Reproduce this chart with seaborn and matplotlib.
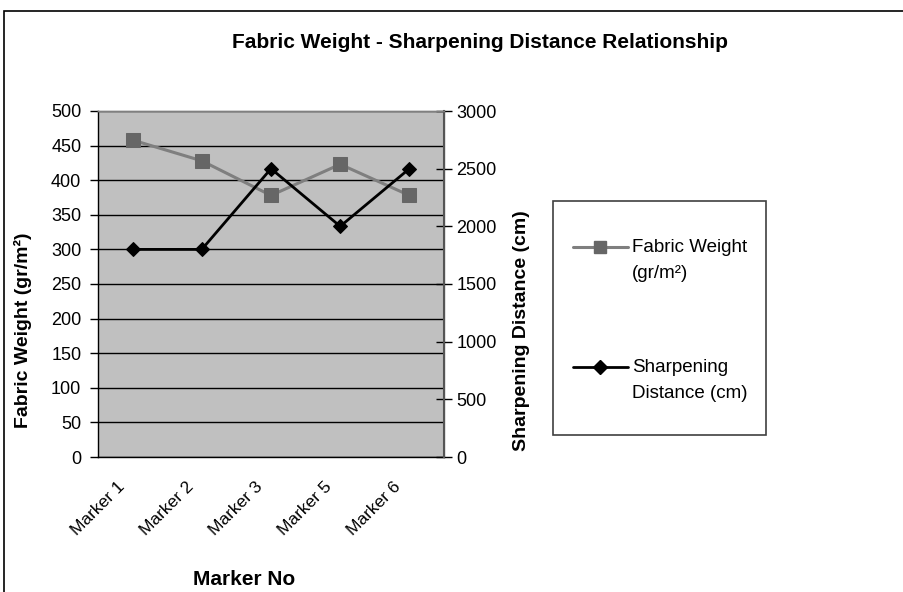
import matplotlib
matplotlib.use("Agg")
import matplotlib.pyplot as plt
import matplotlib.transforms as mtransforms
import seaborn as sns
import pandas as pd
from matplotlib.patches import Rectangle
from matplotlib.lines import Line2D

markers = ["Marker 1", "Marker 2", "Marker 3", "Marker 5", "Marker 6"]
fabric_weight = [458, 428, 378, 423, 378]
sharpening_distance = [1800, 1800, 2500, 2000, 2500]

df = pd.DataFrame({"Marker": markers, "FW": fabric_weight, "SD": sharpening_distance})
df["x"] = range(len(markers))

sns.set_theme(style="white")
plt.rcParams["font.family"] = ["Liberation Sans", "DejaVu Sans"]
plt.rcParams.update({"text.color": "black", "axes.labelcolor": "black",
                     "xtick.color": "black", "ytick.color": "black"})

W, H = 904, 592
fig = plt.figure(figsize=(W / 100, H / 100), dpi=100)


def fx(px):
    return px / W


def fy(py):
    return 1 - py / H


# chart-area border
fig.patches.append(Rectangle((fx(4), -0.01), 1.0, fy(11) + 0.01, transform=fig.transFigure,
                             fill=False, edgecolor="black", linewidth=1.2))

L, R, T, B = 98, 444, 111, 457
ax = fig.add_axes([fx(L), fy(B), (R - L) / W, (B - T) / H])
ax.set_facecolor("#C0C0C0")

sns.lineplot(data=df, x="x", y="FW", ax=ax, color="#7F7F7F", linewidth=2.2,
             marker="s", markersize=9.5, markerfacecolor="#666666", markeredgecolor="#666666",
             zorder=3)
ax.set_ylim(0, 500)
ax.set_xlim(-0.5, 4.5)
ax.set_yticks(range(0, 501, 50))
ax.yaxis.grid(True, color="black", linewidth=1)
ax.set_axisbelow(True)

ax2 = ax.twinx()
sns.lineplot(data=df, x="x", y="SD", ax=ax2, color="black", linewidth=2,
             marker="D", markersize=7.5, markerfacecolor="black", markeredgecolor="black")
ax2.set_ylim(0, 3000)
ax2.set_yticks(range(0, 3001, 500))
ax2.set_xlim(-0.5, 4.5)

for a in (ax, ax2):
    for s in a.spines.values():
        s.set_linewidth(1)
        s.set_color("#808080")
ax.spines["left"].set_color("black")
ax.spines["bottom"].set_color("black")
ax2.spines["left"].set_visible(False)
ax2.spines["bottom"].set_visible(False)
ax2.spines["right"].set_color("#555555")
ax2.spines["right"].set_linewidth(1.5)

ax.set_xticks([i - 0.5 for i in range(6)])
ax.set_xticklabels([])
ax.set_xticks(range(5), minor=True)
ax.set_xticklabels(markers, minor=True, rotation=45, ha="right", rotation_mode="anchor", fontsize=12.5)
ax.tick_params(axis="x", which="major", direction="inout", length=11, width=1, color="black")
ax.tick_params(axis="x", which="minor", length=0, pad=16)
shift = mtransforms.ScaledTranslation(-16 / 100, 0, fig.dpi_scale_trans)
for lab in ax.get_xticklabels(minor=True):
    lab.set_transform(lab.get_transform() + shift)
ax.tick_params(axis="y", direction="out", length=6, width=1, color="black", labelsize=13, pad=6)
ax2.tick_params(axis="y", direction="inout", length=12, width=1, color="black", labelsize=13, pad=3)

ax.set_xlabel("Marker No", fontsize=15, fontweight="bold")
ax.xaxis.set_label_coords((244 - L) / (R - L), -(570 - B) / (B - T))
ax.set_ylabel("Fabric Weight (gr/m²)", fontsize=14, fontweight="bold")
ax.yaxis.set_label_coords(-(L - 32) / (R - L), (B - 330) / (B - T))
ax2.set_ylabel("Sharpening Distance (cm)", fontsize=14, fontweight="bold")
ax2.yaxis.set_label_coords(1 + (513 - R) / (R - L), (B - 331) / (B - T))

fig.text(fx(480), fy(42), "Fabric Weight - Sharpening Distance Relationship",
         ha="center", va="center", fontsize=15, fontweight="bold")

# legend (drawn as a framed box with sample lines and labels)
fig.patches.append(Rectangle((fx(553), fy(435)), (766 - 553) / W, (435 - 201) / H,
                             transform=fig.transFigure, facecolor="white",
                             edgecolor="#404040", linewidth=1.2))
leg_items = [
    (247, ["Fabric Weight", "(gr/m²)"], dict(color="#7F7F7F", lw=2.2), dict(marker="s", ms=9,
                                                                           mfc="#666666", mec="#666666")),
    (367, ["Sharpening", "Distance (cm)"], dict(color="black", lw=2), dict(marker="D", ms=7,
                                                                          mfc="black", mec="black")),
]
for y, lines, lstyle, mstyle in leg_items:
    fig.add_artist(Line2D([fx(573), fx(628)], [fy(y), fy(y)], transform=fig.transFigure, **lstyle))
    fig.add_artist(Line2D([fx(600)], [fy(y)], transform=fig.transFigure, linestyle="none", **mstyle))
    for k, t in enumerate(lines):
        fig.text(fx(632), fy(y + 26 * k), t, ha="left", va="center", fontsize=13.5)

fig.savefig("out.png", dpi=100)
